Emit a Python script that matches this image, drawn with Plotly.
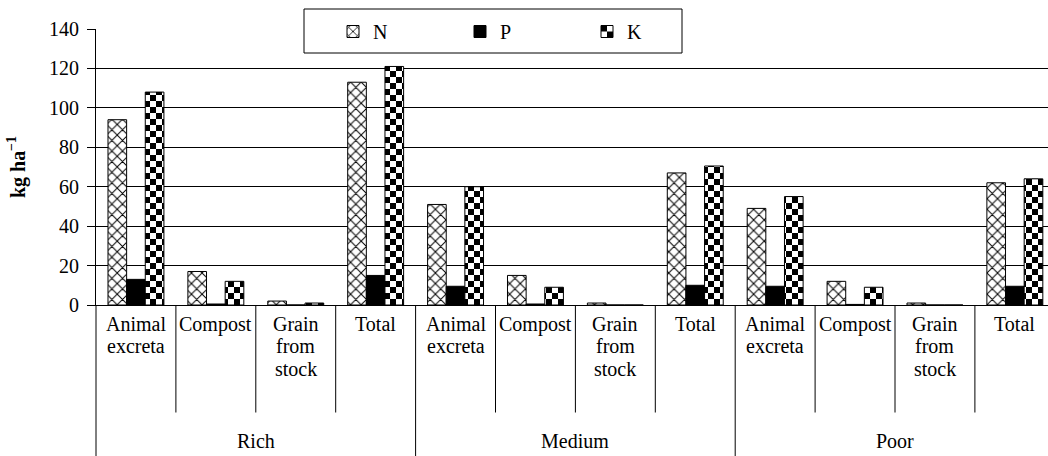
import plotly.graph_objects as go

# ---------------- data ----------------
groups = ["Rich", "Medium", "Poor"]
sources = ["Animal excreta", "Compost", "Grain from stock", "Total"]
source_lines = {
    "Animal excreta": ["Animal", "excreta"],
    "Compost": ["Compost"],
    "Grain from stock": ["Grain", "from", "stock"],
    "Total": ["Total"],
}
series_names = ["N", "P", "K"]
N_vals = [94, 17, 2, 113, 51, 15, 1, 67, 49, 12, 1, 62]
P_vals = [13, 0.5, 0, 15, 9.5, 0.5, 0, 10, 9.5, 0.3, 0, 9.5]
K_vals = [108, 12, 1, 121, 60, 9, 0, 70.5, 55, 9, 0, 64]
y_ticks = [0, 20, 40, 60, 80, 100, 120, 140]

# ---------------- layout constants ----------------
W, H = 1048, 456
ML, MR, MT, MB = 96, 0, 29, 151
PW, PH = W - ML - MR, H - MT - MB
CAT_PX = 79.9
FONT = "Liberation Serif, Tinos, Times New Roman, Times, serif"

def py(pixel_y):
    """paper y for a pixel row"""
    return (H - MB - pixel_y) / PH

def px(pixel_x):
    return (pixel_x - ML) / PW

keys = [f"{g}|{s}" for g in groups for s in sources]

fig = go.Figure()
fig.add_trace(go.Bar(
    x=keys, y=N_vals, name=series_names[0],
    marker=dict(color="white", line=dict(color="black", width=1),
                pattern=dict(shape="x", fgcolor="black", bgcolor="white",
                             size=7.5, solidity=0.25, fillmode="replace")),
))
fig.add_trace(go.Bar(
    x=keys, y=P_vals, name=series_names[1],
    marker=dict(color="black", line=dict(color="black", width=1)),
))
fig.add_trace(go.Bar(
    x=keys, y=K_vals, name=series_names[2],
    marker=dict(color="white", line=dict(color="black", width=1),
                pattern=dict(shape="+", fgcolor="black", bgcolor="white",
                             size=6, solidity=0.5, fillmode="replace")),
))

n_cat = len(keys)
x_hi = -0.5 + PW / CAT_PX

shapes = []
# legend box
shapes.append(dict(type="rect", xref="paper", yref="paper",
                   x0=px(304), x1=px(682), y0=py(53), y1=py(9),
                   fillcolor="white", line=dict(color="black", width=1),
                   layer="above"))
# sub-category separators
for i in range(n_cat - 1):
    if (i + 1) % len(sources) == 0:
        continue
    shapes.append(dict(type="line", xref="x", yref="paper",
                       x0=i + 0.5, x1=i + 0.5, y0=0, y1=py(412.5),
                       line=dict(color="black", width=1)))
# group separators
shapes.append(dict(type="line", xref="x domain", yref="paper",
                   x0=0, x1=0, y0=0, y1=py(H),
                   line=dict(color="black", width=1)))
for gi in range(1, len(groups)):
    xb = gi * len(sources) - 0.5
    shapes.append(dict(type="line", xref="x", yref="paper",
                       x0=xb, x1=xb, y0=0, y1=py(H),
                       line=dict(color="black", width=1)))

annotations = []
LINE0, LSP = 324, 22.5
for i, k in enumerate(keys):
    s = k.split("|")[1]
    for li, t in enumerate(source_lines[s]):
        annotations.append(dict(x=i, y=py(LINE0 + li * LSP), xref="x", yref="paper",
                                text=t, showarrow=False, xanchor="center", yanchor="middle",
                                font=dict(family=FONT, size=20, color="black")))
for gi, g in enumerate(groups):
    annotations.append(dict(x=gi * len(sources) + (len(sources) - 1) / 2, y=py(441.5),
                            xref="x", yref="paper", text=g, showarrow=False,
                            xanchor="center", yanchor="middle",
                            font=dict(family=FONT, size=20, color="black")))

fig.update_layout(
    width=W, height=H,
    margin=dict(l=ML, r=MR, t=MT, b=MB, pad=0),
    paper_bgcolor="white", plot_bgcolor="white",
    barmode="group", bargap=0.3, bargroupgap=0,
    font=dict(family=FONT, size=20, color="black"),
    showlegend=True,
    legend=dict(orientation="h", x=px(333), xanchor="left", y=py(31.5), yanchor="middle",
                bgcolor="rgba(0,0,0,0)", borderwidth=0,
                entrywidth=82, entrywidthmode="pixels",
                font=dict(family=FONT, size=20, color="black")),
    xaxis=dict(type="category", categoryorder="array", categoryarray=keys,
               range=[-0.5, x_hi], showticklabels=False, ticks="",
               showgrid=False, showline=True, linecolor="black", linewidth=1,
               zeroline=False, fixedrange=True),
    yaxis=dict(range=[0, 140], tickvals=y_ticks, ticks="outside", ticklen=8,
               tickcolor="black", tickwidth=1, showline=True, linecolor="black",
               linewidth=1, showgrid=True, gridcolor="black", gridwidth=1,
               zeroline=False, ticklabelstandoff=4,
               tickfont=dict(family=FONT, size=20, color="black"),
               title=dict(text="<b>kg ha<sup>−1</sup></b>", standoff=18,
                          font=dict(family=FONT, size=20, color="black"))),
    shapes=shapes,
    annotations=annotations,
)

post = r"""
document.documentElement.style.margin = '0';
document.body.style.margin = '0';
document.body.style.padding = '0';
document.body.style.overflow = 'hidden';
var gd = document.getElementById('{plot_id}');
var ns = 'http://www.w3.org/2000/svg';
var svg = gd.querySelector('svg.main-svg');
var defs = svg.querySelector('defs');
var pat = document.createElementNS(ns, 'pattern');
pat.setAttribute('id', 'checkerK');
pat.setAttribute('patternUnits', 'userSpaceOnUse');
pat.setAttribute('width', '12');
pat.setAttribute('height', '12');
function rect(x, y, w, h, f) {
  var r = document.createElementNS(ns, 'rect');
  r.setAttribute('x', x); r.setAttribute('y', y);
  r.setAttribute('width', w); r.setAttribute('height', h);
  r.setAttribute('fill', f); pat.appendChild(r);
}
rect(0, 0, 12, 12, '#ffffff');
rect(0, 0, 6, 6, '#000000');
rect(6, 6, 6, 6, '#000000');
defs.appendChild(pat);
var tr = gd.querySelectorAll('.barlayer .trace.bars');
if (tr.length > 2) {
  tr[2].querySelectorAll('.point path').forEach(function(p){ p.style.fill = 'url(#checkerK)'; });
}
var lg = gd.querySelectorAll('.legend .traces');
if (lg.length > 2) {
  lg[2].querySelectorAll('.legendpoints path').forEach(function(p){ p.style.fill = 'url(#checkerK)'; });
}
"""

fig.write_html("out.html", post_script=post, config={"displayModeBar": False})
